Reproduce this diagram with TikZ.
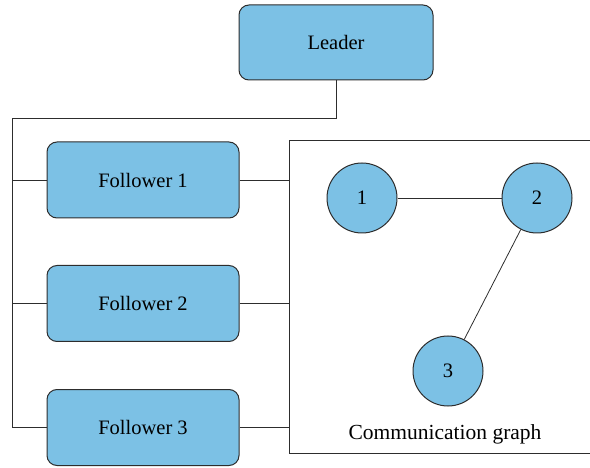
\documentclass[tikz,border=0pt]{standalone}
\usepackage{fontspec}
\setmainfont{Liberation Serif}
\definecolor{boxblue}{RGB}{124,193,229}
\definecolor{edgegray}{RGB}{45,45,45}
\begin{document}
\begin{tikzpicture}[x=1pt,y=-1pt,
  agent/.style={draw=edgegray, fill=boxblue, rounded corners=10pt, line width=1pt,
    minimum width=192pt, minimum height=76pt, font=\fontsize{20.5}{24}\selectfont},
  vertex/.style={draw=edgegray, fill=boxblue, circle, line width=1pt, inner sep=0pt,
    minimum size=70pt, font=\fontsize{20.5}{24}\selectfont},
  link/.style={draw=edgegray, line width=0.8pt}]
\useasboundingbox (0,0) rectangle (590,468);
\node[agent, minimum width=194pt, minimum height=75pt] (L) at (336,42.5) {Leader};
\node[agent] (F1) at (143,180) {Follower 1};
\node[agent] (F2) at (143,303.5) {Follower 2};
\node[agent] (F3) at (143,427.5) {Follower 3};
\node[draw=edgegray, line width=1pt, minimum width=303pt, minimum height=312pt, inner sep=0pt] (G) at (440.5,297) {};
\node[vertex] (1) at (362,198) {1};
\node[vertex] (2) at (537,198) {2};
\node[vertex] (3) at (448,371) {3};
\node[font=\fontsize{21.5}{25}\selectfont] (cap) at (445,434) {Communication graph};
\coordinate (c) at (12,118);
\path[link] (L.south) |- (c) |- (F3.west);
\path[link] (F1.west) -- (F1.west -| c);
\path[link] (F2.west) -- (F2.west -| c);
\path[link] (F1.east) -- (F1.east -| G.west);
\path[link] (F2.east) -- (F2.east -| G.west);
\path[link] (F3.east) -- (F3.east -| G.west);
\path[link] (1) -- (2);
\path[link] (2) -- (3);
\end{tikzpicture}
\end{document}
